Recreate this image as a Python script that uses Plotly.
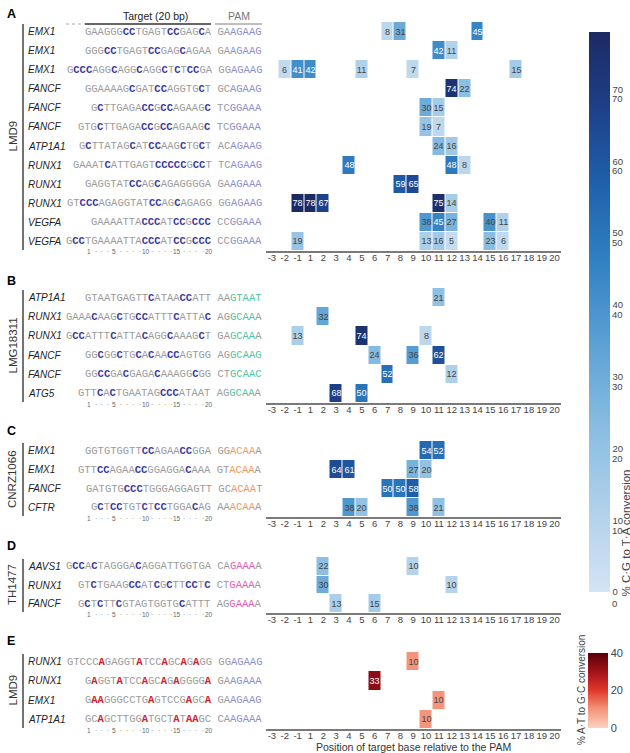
import plotly.graph_objects as go

W, H = 630, 753
POSITIONS = ["-3", "-2", "-1"] + [str(i) for i in range(1, 21)]

# ---------------- data (lowercase = highlighted base) ----------------
A_genes = ["EMX1", "EMX1", "EMX1", "FANCF", "FANCF", "FANCF", "ATP1A1", "RUNX1", "RUNX1", "RUNX1", "VEGFA", "VEGFA"]
A_targets = ["GAAGGGccTGAGTccGAGcA", "GGGccTGAGTccGAGcAGAA", "GcccAGGcAGGcAGGcTcTccGA",
             "GGAAAAGcGATccAGGTGcT", "GcTTGAGAccGccAGAAGc", "GTGcTTGAGAccGccAGAAGc",
             "GcTTATAGcATccAAGcTGcT", "GAAATcATTGAGTcccccGccT", "GAGGTATccAGcAGAGGGGA",
             "GTcccAGAGGTATccAGcAGAGG", "GAAAATTAcccATccGccc", "GccTGAAAATTAcccATccGccc"]
A_pams = ["GAagaag", "GAagaag", "GGagaag", "GCagaag", "TCggaaa", "TCggaaa",
          "ACagaag", "TCagaag", "GAagaaa", "GGagaag", "CCggaaa", "CCggaaa"]
A_edit_pos = [[7, 8, 14], [11, 12], [-2, -1, 1, 5, 9, 17], [12, 13], [10, 11], [10, 11],
              [11, 12], [4, 12, 13], [8, 9], [-1, 1, 2, 11, 12], [10, 11, 12, 15, 16], [-1, 10, 11, 12, 15, 16]]
A_edit_val = [[8, 31, 45], [42, 11], [6, 41, 42, 11, 7, 15], [74, 22], [30, 15], [19, 7],
              [24, 16], [48, 48, 8], [59, 65], [78, 78, 67, 75, 14], [38, 45, 27, 40, 11], [19, 13, 16, 5, 23, 6]]

B_genes = ["ATP1A1", "RUNX1", "RUNX1", "FANCF", "FANCF", "ATG5"]
B_targets = ["GTAATGAGTTcATAAccATT", "GAAAcAAGcTGccATTTcATTAc", "GccATTTcATTAcAGGcAAAGcT",
             "GGcGGcTGcAcAAccAGTGG", "GGccGAcGAGAcAAAGGcGG", "GTTcAcTGAATAGcccATAAT"]
B_pams = ["AAgtaat", "AGgcaaA", "GAgcaaA", "AGgcaag", "CTgcaac", "AGgcaaA"]
B_edit_pos = [[11], [2], [-1, 5, 10], [6, 9, 11], [7, 12], [3, 5]]
B_edit_val = [[21], [32], [13, 74, 8], [24, 36, 62], [52, 12], [68, 50]]

C_genes = ["EMX1", "EMX1", "FANCF", "CFTR"]
C_targets = ["GGTGTGGTTccAGAAccGGA", "GTTccAGAAccGGAGGAcAAA", "GATGTGcccTGGGAGGAGTT", "GcTccTGTcTccTGGAcAG"]
C_pams = ["GGacaaA", "GTacaaA", "GCacaaT", "AAacaaA"]
C_edit_pos = [[10, 11], [3, 4, 9, 10], [7, 8, 9], [4, 5, 9, 11]]
C_edit_val = [[54, 52], [64, 61, 27, 20], [50, 50, 58], [38, 20, 38, 21]]

D_genes = ["AAVS1", "RUNX1", "FANCF"]
D_targets = ["GccAcTAGGGAcAGGATTGGTGA", "GTcTGAAGccATcGcTTccTc", "GcTcTTcGTAGTGGTGcATTT"]
D_pams = ["CAgaaaA", "CTgaaaA", "AGgaaaA"]
D_edit_pos = [[2, 9], [2, 12], [3, 6]]
D_edit_val = [[22, 10], [30, 10], [13, 15]]

E_genes = ["RUNX1", "RUNX1", "EMX1", "ATP1A1"]
E_targets = ["GTCCCaGAGGTaTCCaGCaGaGG", "GaGGTaTCCaGCaGaGGGGa", "GaaGGGCCTGaGTCCGaGCa", "GCaGCTTGGaTGCTaTaaGC"]
E_pams = ["GGagaag", "GAagaaa", "GAagaag", "CAagaaa"]
E_edit_pos = [[9], [6], [11], [10]]
E_edit_val = [[10], [33], [10], [10]]

STRAINS = ["LMD9", "LMG18311", "CNRZ1066", "TH1477", "LMD9"]
LETTERS = ["A", "B", "C", "D", "E"]
BLUE_TICKS = [0, 10, 20, 30, 40, 50, 60, 70]
RED_TICKS = [0, 20, 40]

# ---------------- layout constants (pixels) ----------------
def px(x):
    return x / W

def py(y):
    return 1 - y / H

PANEL_PX = [(22, 251), (288, 403), (441, 517), (557, 613), (652, 729)]
LETTER_Y = [14, 281, 431, 546, 641]
PAM_COLORS = ["#8e8ec9", "#4fc49f", "#f0985f", "#e35db5", "#8e8ec9"]
HI_COLORS = ["#3a3a9e", "#3a3a9e", "#3a3a9e", "#3a3a9e", "#d0202a"]
GRAY = "#9b9b9b"
SEQ_RIGHT = 262.5
CW = 6.3
FONT = "Arial, Liberation Sans, sans-serif"
MONO = "Liberation Mono, Courier New, monospace"

panels = [
    (A_genes, A_targets, A_pams, A_edit_pos, A_edit_val),
    (B_genes, B_targets, B_pams, B_edit_pos, B_edit_val),
    (C_genes, C_targets, C_pams, C_edit_pos, C_edit_val),
    (D_genes, D_targets, D_pams, D_edit_pos, D_edit_val),
    (E_genes, E_targets, E_pams, E_edit_pos, E_edit_val),
]

BLUES = [[0.0, "#d3e4f4"], [0.12, "#b7d4ec"], [0.28, "#8dbfe2"], [0.45, "#5a9fd3"],
         [0.6, "#2f7fc1"], [0.74, "#1f5ea9"], [0.87, "#1e3f87"], [1.0, "#1c2a64"]]
REDS = [[0.0, "#fcd2c2"], [0.25, "#f4957b"], [0.5, "#e0392c"], [0.75, "#a3121a"], [1.0, "#5a0008"]]


def seq_html(s, hi_color, base_color, bold):
    out = []
    cur_style, buf = None, ""
    for ch in s:
        style = "hi" if ch.islower() else "base"
        if style != cur_style and buf:
            out.append((cur_style, buf))
            buf = ""
        cur_style = style
        buf += ch.upper()
    if buf:
        out.append((cur_style, buf))
    parts = []
    for st, txt in out:
        if st == "hi":
            w = "font-weight:bold;" if bold else ""
            parts.append('<span style="color:%s;%s">%s</span>' % (hi_color, w, txt))
        else:
            parts.append('<span style="color:%s">%s</span>' % (base_color, txt))
    return "".join(parts)


fig = go.Figure()
annotations = []
shapes = []

for k, (genes, targets, pams, epos, evals) in enumerate(panels):
    n = len(genes)
    ax_id = "" if k == 0 else str(k + 1)
    z = [[None] * len(POSITIONS) for _ in range(n)]
    for i in range(n):
        for p, v in zip(epos[i], evals[i]):
            z[i][POSITIONS.index(str(p))] = v
    fig.add_trace(go.Heatmap(
        x=POSITIONS, y=list(range(n)), z=z,
        coloraxis="coloraxis2" if k == 4 else "coloraxis",
        xgap=1, ygap=1,
        texttemplate="%{z}", textfont=dict(size=9, family=FONT),
        hoverinfo="skip",
        xaxis="x" + ax_id, yaxis="y" + ax_id,
    ))
    top, bot = PANEL_PX[k]
    fig.update_layout(**{
        "xaxis" + ax_id: dict(domain=[px(265.5), px(561)], anchor="y" + ax_id, type="category",
                              categoryorder="array", categoryarray=POSITIONS, range=[-0.5, 22.5],
                              showline=True, linecolor="#7a7a7a", linewidth=2, ticks="",
                              ticklabelstandoff=-3,
                              tickfont=dict(size=9.5, color="#444", family=FONT),
                              showgrid=False, zeroline=False, fixedrange=True),
        "yaxis" + ax_id: dict(domain=[py(bot), py(top)], anchor="x" + ax_id,
                              range=[n - 0.5, -0.5], visible=False, fixedrange=True),
    })
    rowh = (bot - top) / n
    for i in range(n):
        yc = top + (i + 0.5) * rowh
        annotations.append(dict(x=px(27), y=py(yc), xref="paper", yref="paper", xanchor="left",
                                yanchor="middle", showarrow=False, borderpad=0,
                                text="<i>%s</i>" % genes[i],
                                font=dict(family=FONT, size=10, color="#222")))
        txt = seq_html(targets[i], HI_COLORS[k], GRAY, True) + '<span style="color:%s">\u00a0</span>' % GRAY \
            + seq_html(pams[i], PAM_COLORS[k], GRAY, False)
        annotations.append(dict(x=px(SEQ_RIGHT), y=py(yc), xref="paper", yref="paper", xanchor="right",
                                yanchor="middle", showarrow=False, borderpad=0, text=txt,
                                font=dict(family=MONO, size=10.5, color=GRAY)))
    # ruler
    ry = bot + 1
    for p in range(1, 21):
        xc = SEQ_RIGHT - (8 + (20 - p) + 0.5) * CW
        label = str(p) if p in (1, 5, 10, 15, 20) else "\u00b7"
        annotations.append(dict(x=px(xc), y=py(ry), xref="paper", yref="paper", xanchor="center",
                                yanchor="middle", showarrow=False, borderpad=0, text=label,
                                font=dict(family=FONT, size=6.5, color="#666")))
    # strain bar + label
    shapes.append(dict(type="line", xref="paper", yref="paper", x0=px(23), x1=px(23),
                       y0=py(top + 2), y1=py(bot - 1), line=dict(color="#444", width=1.5)))
    annotations.append(dict(x=px(12), y=py((top + bot) / 2), xref="paper", yref="paper",
                            xanchor="center", yanchor="middle", showarrow=False, textangle=-90,
                            text=STRAINS[k], font=dict(family=FONT, size=11.5, color="#333")))
    annotations.append(dict(x=px(11), y=py(LETTER_Y[k]), xref="paper", yref="paper",
                            xanchor="center", yanchor="middle", showarrow=False,
                            text="<b>%s</b>" % LETTERS[k], font=dict(family=FONT, size=12.5, color="#000")))

# header
annotations.append(dict(x=px(155), y=py(16), xref="paper", yref="paper", xanchor="center", yanchor="middle",
                        showarrow=False, text="Target (20 bp)", font=dict(family=FONT, size=10.5, color="#222")))
annotations.append(dict(x=px(239), y=py(16), xref="paper", yref="paper", xanchor="center", yanchor="middle",
                        showarrow=False, text="PAM", font=dict(family=FONT, size=10.5, color="#777")))
shapes.append(dict(type="line", xref="paper", yref="paper", x0=px(85), x1=px(211), y0=py(24), y1=py(24),
                   line=dict(color="#333", width=1.5)))
shapes.append(dict(type="line", xref="paper", yref="paper", x0=px(66), x1=px(85), y0=py(24), y1=py(24),
                   line=dict(color="#aaa", width=1, dash="dot")))
shapes.append(dict(type="line", xref="paper", yref="paper", x0=px(215), x1=px(262), y0=py(24), y1=py(24),
                   line=dict(color="#aaa", width=1.5)))

# x axis title
annotations.append(dict(x=px(413), y=py(747), xref="paper", yref="paper", xanchor="center", yanchor="middle",
                        showarrow=False, text="Position of target base relative to the PAM",
                        font=dict(family=FONT, size=10.5, color="#333")))

# colorbar titles and duplicate tick set
annotations.append(dict(x=px(625.5), y=py(533), xref="paper", yref="paper", xanchor="center", yanchor="middle",
                        showarrow=False, textangle=-90, text="% C\u00b7G to T\u00b7A conversion",
                        font=dict(family=FONT, size=11.5, color="#444")))
annotations.append(dict(x=px(581), y=py(690), xref="paper", yref="paper", xanchor="center", yanchor="middle",
                        showarrow=False, textangle=-90, text="% A\u00b7T to G\u00b7C conversion",
                        font=dict(family=FONT, size=10, color="#444")))
for v in BLUE_TICKS:
    annotations.append(dict(x=px(610), y=py(603 - v * 7.21), xref="paper", yref="paper", xanchor="left",
                            yanchor="middle", showarrow=False, text=str(v),
                            font=dict(family=FONT, size=9.5, color="#444")))

fig.update_layout(
    width=W, height=H, margin=dict(l=0, r=0, t=0, b=0),
    paper_bgcolor="white", plot_bgcolor="white",
    font=dict(family=FONT, color="#444"),
    showlegend=False,
    coloraxis=dict(colorscale=BLUES, cmin=0, cmax=78,
                   colorbar=dict(x=px(589), xanchor="left", xpad=0, y=py(592), yanchor="bottom", ypad=0,
                                 len=560, lenmode="pixels", thickness=21, thicknessmode="pixels",
                                 outlinewidth=0, tickvals=BLUE_TICKS, ticks="",
                                 tickfont=dict(size=9.5, color="#444", family=FONT))),
    coloraxis2=dict(colorscale=REDS, cmin=0, cmax=40,
                    colorbar=dict(x=px(588), xanchor="left", xpad=0, y=py(728), yanchor="bottom", ypad=0,
                                  len=75, lenmode="pixels", thickness=20, thicknessmode="pixels",
                                  outlinewidth=0, tickvals=RED_TICKS, ticks="",
                                  tickfont=dict(size=11, color="#444", family=FONT))),
    annotations=annotations, shapes=shapes,
)

fig.write_html("out.html")
